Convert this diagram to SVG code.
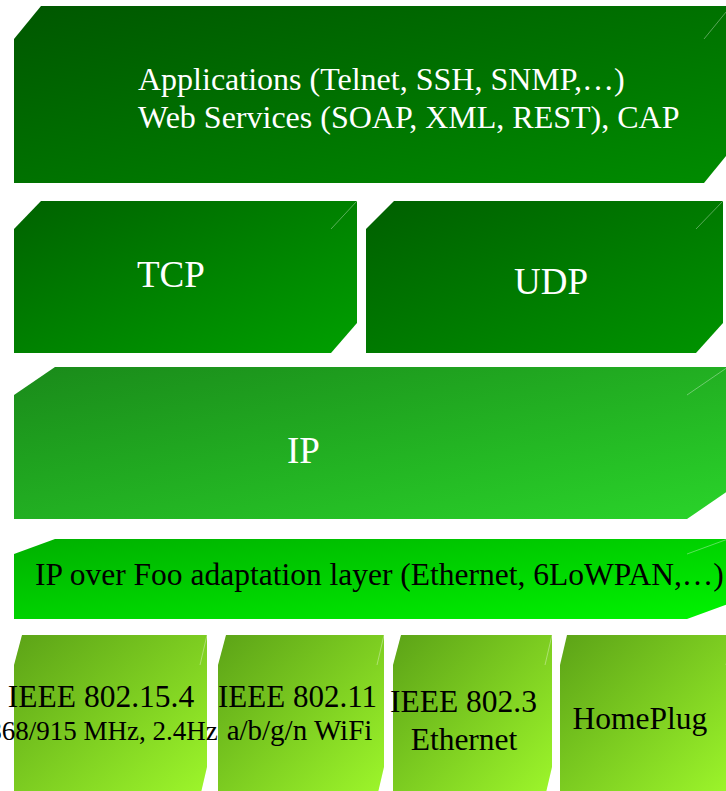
<svg xmlns="http://www.w3.org/2000/svg" width="726" height="791" viewBox="0 0 726 791">
<defs>
<linearGradient id="gApp" x1="0" y1="0" x2="1" y2="1"><stop offset="0" stop-color="#005700"/><stop offset="1" stop-color="#008c00"/></linearGradient>
<linearGradient id="gTcp" x1="0" y1="0" x2="1" y2="1"><stop offset="0" stop-color="#006200"/><stop offset="1" stop-color="#00a000"/></linearGradient>
<linearGradient id="gUdp" x1="0" y1="0" x2="1" y2="1"><stop offset="0" stop-color="#005f00"/><stop offset="1" stop-color="#009400"/></linearGradient>
<linearGradient id="gIp" x1="0" y1="0" x2="1" y2="1"><stop offset="0" stop-color="#1a8a1a"/><stop offset="1" stop-color="#2ad42a"/></linearGradient>
<linearGradient id="gAd" x1="0" y1="0" x2="1" y2="1"><stop offset="0" stop-color="#00b000"/><stop offset="1" stop-color="#00f400"/></linearGradient>
<linearGradient id="gPhy" x1="0" y1="0" x2="1" y2="1"><stop offset="0" stop-color="#5ca317"/><stop offset="1" stop-color="#9ef72b"/></linearGradient>
</defs>
<style>
.edge{stroke:#ffffff;stroke-opacity:0.35;stroke-width:1;fill:none}
.w{font-family:"Liberation Serif","Times New Roman",serif;fill:#ffffff}
.b{font-family:"Liberation Serif","Times New Roman",serif;fill:#000000}
.m{text-anchor:middle}
</style>
<g id="applications">
<polygon points="14,39 41,6 731,6 731,150 704,183 14,183" fill="url(#gApp)"/>
<line class="edge" x1="704" y1="39" x2="731" y2="6"/>
<text class="w" x="138" y="90" font-size="32">Applications (Telnet, SSH, SNMP,…)</text>
<text class="w" x="138" y="128" font-size="32">Web Services (SOAP, XML, REST), CAP</text>
</g>
<g id="tcp">
<polygon points="14,229 41,201 357,201 357,323 331,353 14,353" fill="url(#gTcp)"/>
<line class="edge" x1="331" y1="229" x2="357" y2="201"/>
<text class="w" x="137" y="287" font-size="37">TCP</text>
</g>
<g id="udp">
<polygon points="366,229 394,201 723,201 723,323 696,353 366,353" fill="url(#gUdp)"/>
<line class="edge" x1="696" y1="229" x2="723" y2="201"/>
<text class="w" x="514" y="294" font-size="37">UDP</text>
</g>
<g id="ip">
<polygon points="14,395 55,367 728,367 728,491 687,519 14,519" fill="url(#gIp)"/>
<line class="edge" x1="687" y1="395" x2="728" y2="367"/>
<text class="w" x="287" y="463" font-size="37">IP</text>
</g>
<g id="adaptation">
<polygon points="14,554 55,539 728,539 728,604 687,619 14,619" fill="url(#gAd)"/>
<line class="edge" x1="687" y1="554" x2="728" y2="539"/>
<text class="b" x="35" y="585" font-size="31.5">IP over Foo adaptation layer (Ethernet, 6LoWPAN,…)</text>
</g>
<g id="ieee802154">
<polygon points="14,665 22,635 207,635 207,767 200,797 14,797" fill="url(#gPhy)"/>
<line class="edge" x1="200" y1="665" x2="207" y2="635"/>
<text class="b m" x="101" y="707" font-size="31.5">IEEE 802.15.4</text>
<text class="b m" x="103" y="740" font-size="27">868/915 MHz, 2.4Hz</text>
</g>
<g id="ieee80211">
<polygon points="218,665 226,635 384,635 384,767 377,797 218,797" fill="url(#gPhy)"/>
<line class="edge" x1="377" y1="665" x2="384" y2="635"/>
<text class="b m" x="297.5" y="707" font-size="31">IEEE 802.11</text>
<text class="b m" x="299.5" y="740" font-size="29">a/b/g/n WiFi</text>
</g>
<g id="ieee8023">
<polygon points="393,665 401,635 552,635 552,767 545,797 393,797" fill="url(#gPhy)"/>
<line class="edge" x1="545" y1="665" x2="552" y2="635"/>
<text class="b m" x="463.5" y="712" font-size="31.5">IEEE 802.3</text>
<text class="b m" x="464" y="750" font-size="31.5">Ethernet</text>
</g>
<g id="homeplug">
<polygon points="560,665 567,635 733,635 733,767 726,797 560,797" fill="url(#gPhy)"/>
<line class="edge" x1="726" y1="665" x2="733" y2="635"/>
<text class="b m" x="640" y="729" font-size="31.5">HomePlug</text>
</g>
<g id="connectors"/>
</svg>
